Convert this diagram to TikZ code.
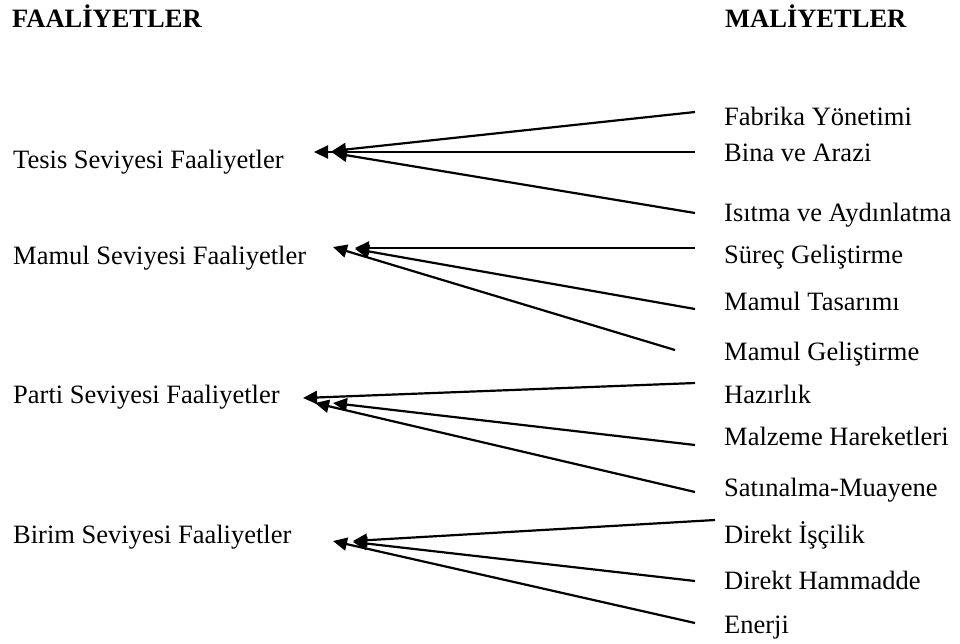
\documentclass[tikz,border=0pt]{standalone}
\usepackage{fontspec}
\setmainfont{Liberation Serif}
\usetikzlibrary{arrows.meta}
\begin{document}
\begin{tikzpicture}[x=1pt,y=-1pt,
  lbl/.style={anchor=base west,inner sep=0pt,font=\fontsize{26.5}{30}\selectfont},
  hdr/.style={lbl,font=\fontsize{26.5}{30}\selectfont\bfseries},
  link/.style={line width=2.2pt,-{Triangle[length=14pt,width=13pt]}}]
\useasboundingbox (0,0) rectangle (960,643);

% column headings
\node[hdr] (hA) at (12,27) {FAALİYETLER};
\node[hdr] (hM) at (725,27) {MALİYETLER};

% activity levels
\node[lbl] (tesis) at (13,168) {Tesis Seviyesi Faaliyetler};
\node[lbl] (mamul) at (13,264) {Mamul Seviyesi Faaliyetler};
\node[lbl] (parti) at (13,403) {Parti Seviyesi Faaliyetler};
\node[lbl] (birim) at (13,543) {Birim Seviyesi Faaliyetler};

% cost items
\node[lbl] (c1) at (724,125) {Fabrika Yönetimi};
\node[lbl] (c2) at (724,161) {Bina ve Arazi};
\node[lbl] (c3) at (724,221) {Isıtma ve Aydınlatma};
\node[lbl] (c4) at (724,263) {Süreç Geliştirme};
\node[lbl] (c5) at (724,310) {Mamul Tasarımı};
\node[lbl] (c6) at (724,360) {Mamul Geliştirme};
\node[lbl] (c7) at (724,403) {Hazırlık};
\node[lbl] (c8) at (724,445) {Malzeme Hareketleri};
\node[lbl] (c9) at (724,496) {Satınalma-Muayene};
\node[lbl] (c10) at (724,543) {Direkt İşçilik};
\node[lbl] (c11) at (724,589) {Direkt Hammadde};
\node[lbl] (c12) at (724,633) {Enerji};

% line ends on the cost side
\coordinate (e1) at (695,112);
\coordinate (e2) at (695,152);
\coordinate (e3) at (695,213);
\coordinate (e4) at (695,248);
\coordinate (e5) at (695,309);
\coordinate (e6) at (675,350);
\coordinate (e7) at (695,383);
\coordinate (e8) at (695,445);
\coordinate (e9) at (695,492);
\coordinate (e10) at (715,520);
\coordinate (e11) at (695,581);
\coordinate (e12) at (695,623);

% arrow tips next to the activity levels
\coordinate (t1) at (332,151);
\coordinate (t2) at (314,152);
\coordinate (t3) at (333,153);
\coordinate (t4) at (355,248);
\coordinate (t5) at (355,249);
\coordinate (t6) at (333,247);
\coordinate (t7) at (303,398);
\coordinate (t8) at (333,403);
\coordinate (t9) at (315,403);
\coordinate (t10) at (353,541);
\coordinate (t11) at (353,542);
\coordinate (t12) at (333,541);

\foreach \i in {1,...,12} {\draw[link] (e\i) -- (t\i);}
\end{tikzpicture}
\end{document}
